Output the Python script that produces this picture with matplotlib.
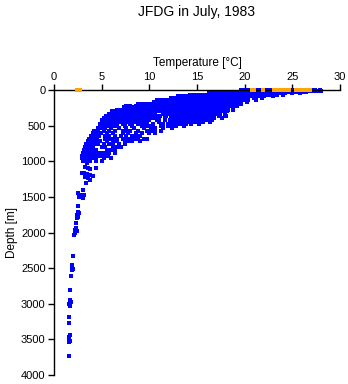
import matplotlib
matplotlib.use('Agg')
import matplotlib.pyplot as plt

plt.rcParams['font.family'] = ['Liberation Sans', 'DejaVu Sans']

upper_depths = [5, 8, 25, 45, 70, 90, 115, 140, 165, 195, 220, 245, 275, 300,
                330, 360, 390, 420, 450, 480, 510, 540, 575, 610, 650, 690,
                720, 760, 800, 840, 880, 920, 950, 990]
upper_temps = [
    [19.6, 19.9, 20.2, 20.5, 20.8, 21.1, 21.4, 21.7, 22.0, 22.3, 22.6, 22.9, 23.2, 23.5,
     23.8, 24.1, 24.4, 24.7, 25.0, 25.3, 25.6, 25.9, 26.2, 26.5, 26.8, 27.1, 27.4, 27.9],
    [19.6, 20.0, 20.3, 20.6, 21.0, 21.3, 21.6, 22.0, 22.3, 22.6, 23.0, 23.3, 23.6, 24.0,
     24.3, 24.6, 25.0, 25.3, 25.6, 26.0, 26.3, 26.6, 27.0, 27.3, 27.6, 28.0],
    [17.2, 17.5, 17.9, 18.4, 18.8, 19.1, 19.5, 19.8, 20.2, 20.5, 20.9, 21.2, 21.6, 21.9,
     22.3, 22.6, 23.0, 23.3, 23.7, 24.0, 24.4, 24.8, 25.1, 25.5, 26.0, 26.4],
    [16.3, 16.6, 17.0, 17.3, 17.7, 18.0, 18.4, 18.7, 19.1, 19.4, 19.8, 20.1, 20.5, 20.8,
     21.2, 21.5, 21.9, 22.2, 22.6, 23.0, 23.4, 23.8, 24.2, 25.0, 25.8],
    [14.3, 14.6, 15.0, 15.4, 15.7, 16.1, 16.4, 16.8, 17.1, 17.5, 17.8, 18.2, 18.5, 18.9,
     19.2, 19.6, 19.9, 20.3, 20.6, 21.0, 21.3, 21.7, 22.0, 22.4, 22.8, 23.4, 24.0],
    [13.0, 13.4, 13.8, 14.4, 14.8, 15.1, 15.5, 15.8, 16.2, 16.5, 16.9, 17.2, 17.6, 17.9,
     18.3, 18.6, 19.0, 19.3, 19.7, 20.0, 20.4, 20.8, 21.2, 21.6, 22.0, 23.0],
    [12.3, 12.7, 13.3, 13.7, 14.0, 14.4, 14.7, 15.1, 15.4, 15.8, 16.1, 16.5, 16.8, 17.2,
     17.5, 17.9, 18.2, 18.6, 18.9, 19.3, 19.6, 20.0, 20.4, 21.0, 21.8],
    [10.8, 11.2, 11.6, 12.0, 12.4, 12.7, 13.1, 13.4, 13.8, 14.1, 14.5, 14.8, 15.2, 15.5,
     15.9, 16.2, 16.6, 16.9, 17.3, 17.6, 18.0, 18.3, 18.7, 19.0, 19.4, 19.8, 20.4, 21.2],
    [10.5, 10.9, 11.8, 12.2, 12.5, 12.9, 13.2, 13.6, 13.9, 14.3, 14.6, 15.0, 15.3, 15.7,
     16.0, 16.4, 16.7, 17.1, 17.4, 17.8, 18.1, 18.5, 18.8, 19.2, 19.6, 20.2],
    [8.8, 9.2, 9.6, 10.0, 10.4, 11.2, 11.6, 12.0, 12.3, 12.7, 13.0, 13.4, 13.7, 14.1,
     14.4, 14.8, 15.1, 15.5, 15.8, 16.2, 16.5, 16.9, 17.2, 17.6, 17.9, 18.3, 18.6, 19.0, 19.6],
    [7.6, 8.0, 8.6, 9.0, 9.4, 9.8, 10.2, 10.6, 11.0, 11.4, 12.2, 12.6, 12.9, 13.3, 13.6,
     14.0, 14.3, 14.7, 15.0, 15.4, 15.7, 16.1, 16.4, 16.8, 17.1, 17.5, 17.8, 18.2, 18.6, 19.2],
    [7.3, 7.7, 8.1, 8.5, 8.9, 9.3, 9.7, 10.1, 10.5, 10.9, 11.3, 11.7, 12.1, 12.5, 12.9,
     13.3, 13.6, 14.0, 14.3, 14.7, 15.0, 15.4, 15.7, 16.1, 16.4, 16.8, 17.1, 17.5, 17.8, 18.2, 18.8],
    [6.6, 7.0, 7.4, 7.8, 8.2, 8.6, 9.0, 9.4, 9.8, 10.2, 10.6, 11.0, 11.4, 11.8, 12.2,
     12.6, 13.0, 13.4, 13.8, 14.2, 14.6, 15.0, 15.4, 15.8, 16.2, 16.6, 17.0, 17.4, 17.8, 18.3, 18.8],
    [6.1, 6.5, 6.9, 7.3, 7.7, 8.1, 8.5, 8.9, 9.3, 9.7, 10.1, 10.5, 10.9, 11.3, 11.7,
     12.1, 12.5, 12.9, 13.3, 13.7, 14.1, 14.5, 14.9, 15.3, 15.7, 16.1, 16.5, 16.9, 17.3, 17.7, 18.2],
    [5.8, 6.2, 6.6, 7.0, 7.4, 7.8, 8.2, 8.6, 9.0, 9.4, 9.8, 10.2, 10.6, 11.4, 11.8,
     12.2, 12.6, 13.0, 13.4, 13.8, 14.2, 14.6, 15.0, 15.4, 15.8, 16.2, 16.6, 17.0, 17.4, 17.9],
    [5.5, 5.9, 6.3, 6.7, 7.1, 7.5, 7.9, 8.3, 8.7, 9.1, 9.5, 9.9, 10.3, 10.7, 11.1,
     11.8, 12.4, 12.8, 13.2, 13.6, 14.0, 14.4, 14.8, 15.2, 15.6, 16.0, 16.4, 16.8, 17.3, 18.0],
    [5.3, 5.7, 6.1, 6.5, 6.9, 7.3, 7.7, 8.1, 8.5, 8.9, 9.3, 9.7, 10.1, 10.5, 11.0,
     11.6, 12.3, 12.7, 13.1, 13.5, 13.9, 14.3, 14.7, 15.1, 15.5, 15.9, 16.3, 16.8, 17.6],
    [5.0, 5.4, 5.8, 6.2, 6.6, 7.0, 7.4, 7.8, 8.2, 8.6, 9.0, 9.4, 10.0, 10.8, 11.6,
     12.2, 12.6, 13.0, 13.4, 13.8, 14.2, 14.6, 15.0, 15.4, 16.0, 16.6],
    [5.0, 5.4, 5.8, 6.2, 6.6, 7.0, 7.4, 7.8, 8.4, 9.2, 9.8, 11.0, 12.2, 12.6, 13.0,
     13.4, 13.8, 14.2, 14.6, 15.0, 15.6, 16.4],
    [4.8, 5.2, 5.6, 6.0, 6.6, 7.2, 8.0, 8.8, 9.6, 10.4, 11.4, 12.0, 12.4, 12.8, 13.2,
     13.8, 14.4, 15.2],
    [4.8, 5.2, 5.6, 6.2, 6.5, 7.4, 8.2, 9.2, 9.6, 10.0, 10.4, 11.2, 12.0, 12.8, 13.6],
    [4.6, 5.0, 5.4, 6.0, 6.8, 7.6, 8.4, 9.4, 10.2, 10.6, 11.4, 12.4],
    [4.2, 4.6, 5.2, 5.8, 6.4, 7.2, 7.6, 8.0, 8.8, 9.8, 10.2, 10.6, 11.2],
    [4.1, 4.5, 4.9, 5.6, 6.2, 7.2, 7.8, 8.6, 9.2, 10.0, 10.6],
    [3.9, 4.3, 4.7, 5.4, 5.8, 6.4, 7.0, 7.6, 8.2, 8.6, 9.0],
    [3.7, 4.1, 4.5, 5.4, 5.8, 6.2, 6.6, 7.2, 7.6, 8.0, 8.4, 8.8, 9.4, 9.8],
    [3.6, 4.0, 4.4, 4.8, 5.6, 6.2, 6.6, 7.4, 7.8, 8.2, 9.0],
    [3.4, 3.8, 4.2, 4.6, 5.2, 5.8, 6.2, 6.8, 7.4],
    [3.3, 3.7, 4.1, 5.0, 5.4, 6.2, 6.6, 7.0],
    [3.2, 3.6, 4.0, 4.4, 5.6, 6.0, 6.4],
    [3.0, 3.4, 3.8, 4.2, 4.6, 5.0, 5.4, 5.8, 6.4],
    [2.9, 3.3, 3.7, 4.1, 4.5, 4.9, 5.3, 5.7],
    [2.9, 3.3, 3.6, 4.0, 4.4, 5.2, 6.0],
    [3.0, 3.4, 3.8, 4.4, 5.0],
]

# deeper single casts
deep_temp = [3.3, 3.8, 4.4, 5.0, 3.5, 3.3, 3.6, 3.8, 4.4, 2.9, 3.2, 3.5, 3.8, 4.1,
             3.3, 3.6, 3.8, 3.4, 3.0, 2.5, 2.8, 3.2, 2.6, 3.0, 2.5, 2.5, 2.6, 2.4,
             2.5, 2.4, 2.3, 2.3, 2.2, 2.4, 2.2, 2.1, 1.95, 1.9, 1.85, 1.95, 1.85,
             1.8, 1.7, 1.7, 1.75, 1.65, 1.6, 1.7, 1.6, 1.6, 1.7, 1.6, 1.55, 1.65,
             1.6, 1.6]
deep_depth = [990, 1000, 995, 1000, 1030, 1080, 1100, 1110, 1100, 1160, 1170, 1180,
              1190, 1200, 1220, 1240, 1260, 1310, 1400, 1450, 1470, 1480, 1500, 1510,
              1630, 1710, 1730, 1760, 1780, 1800, 1870, 1940, 1960, 1980, 2010, 2040,
              2330, 2460, 2490, 2510, 2530, 2610, 2800, 2950, 2970, 2990, 3010, 3030,
              3180, 3270, 3440, 3470, 3500, 3520, 3540, 3740]

# surface samples highlighted in orange
surf_temp = [2.4, 2.7, 20.8, 21.0, 21.9, 23.1, 23.4, 23.7, 24.0, 24.3, 24.6, 25.4,
             25.7, 26.0, 26.3, 26.6, 26.9]
surf_depth = [3, 3, 3, 3, 3, 3, 3, 3, 3, 3, 3, 3, 3, 3, 3, 3, 3]

all_temp = []
all_depth = []
for d, row in zip(upper_depths, upper_temps):
    all_temp += row
    all_depth += [d] * len(row)
all_temp += deep_temp
all_depth += deep_depth

fig = plt.figure(figsize=(3.48, 3.84), dpi=100)
ax = fig.add_axes([0.155, 0.0234, 0.822, 0.7422])

ax.plot(all_temp, all_depth, 's', color='#0000ff', markersize=2.4,
        markeredgewidth=0, antialiased=False, clip_on=False)
ax.plot(surf_temp, surf_depth, 's', color='#ffa500', markersize=2.5,
        markeredgewidth=0, antialiased=False, clip_on=False, zorder=3)

ax.set_xlim(0, 30)
ax.set_ylim(4000, 0)
ax.set_xticks([0, 5, 10, 15, 20, 25, 30])
ax.set_yticks([0, 500, 1000, 1500, 2000, 2500, 3000, 3500, 4000])

ax.xaxis.tick_top()
ax.xaxis.set_label_position('top')
ax.spines['right'].set_visible(False)
ax.spines['bottom'].set_visible(False)
for s in ['left', 'top']:
    ax.spines[s].set_linewidth(1.0)
ax.tick_params(direction='out', length=4, width=1.0, labelsize=8, pad=2)

ax.set_xlabel('Temperature [\u00b0C]', fontsize=8.5, labelpad=4)
ax.set_ylabel('Depth [m]', fontsize=8.5, labelpad=2)
fig.text(0.566, 0.968, 'JFDG in July, 1983', ha='center', va='center', fontsize=10)

fig.savefig('out.png', dpi=100)
